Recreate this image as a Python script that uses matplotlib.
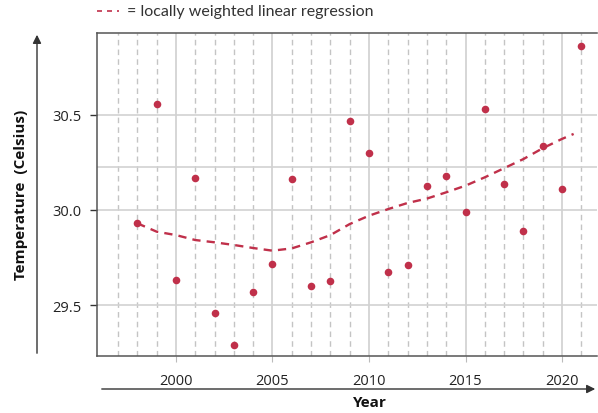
import matplotlib
matplotlib.use("Agg")
import matplotlib.pyplot as plt
import numpy as np

years = list(range(1998, 2022))
temps = [29.93, 30.56, 29.633, 30.17, 29.46, 29.289, 29.567, 29.714, 30.162, 29.60,
         29.628, 30.467, 30.298, 29.672, 29.711, 30.128, 30.179, 29.991, 30.532, 30.137,
         29.888, 30.335, 30.112, 30.863]
lowess_years = list(range(1998, 2021)) + [2020.6]
lowess = [29.93, 29.886, 29.868, 29.842, 29.83, 29.816, 29.80, 29.786, 29.798, 29.83,
          29.868, 29.926, 29.97, 30.005, 30.037, 30.06, 30.093, 30.128, 30.172, 30.22,
          30.268, 30.325, 30.374, 30.40]
xticks = [2000, 2005, 2010, 2015, 2020]
yticks = [29.5, 30.0, 30.5]
ytick_labels = ["29.5", "30.0", "30.5"]
minor_years = list(range(1997, 2022))
extra_hgrid = [30.226]

RED = "#c0304a"
W, H = 598, 414
fig = plt.figure(figsize=(W / 100, H / 100), dpi=100)

def fx(px):
    return px / W

def fy(py):
    return 1 - py / H

ax = fig.add_axes([fx(97), fy(357), fx(597) - fx(97), fy(34) - fy(357)])
ax.set_xlim(1995.91, 2021.81)
ax.set_ylim(29.232, 30.931)

# grids
for yr in minor_years:
    if yr in xticks:
        continue
    ax.axvline(yr, color="#c4c4c4", lw=1.0, ls=(0, (4, 3)), zorder=1)
for xt in xticks:
    ax.axvline(xt, color="#cfcfcf", lw=1.2, zorder=1)
for yt in yticks + extra_hgrid:
    ax.axhline(yt, color="#d2d2d2", lw=1.2, zorder=1)

ax.plot(lowess_years, lowess, color=RED, lw=1.7, ls=(0, (3.5, 2.6)), zorder=3)
ax.scatter(years, temps, s=30, color=RED, zorder=4, linewidths=0)

ax.set_xticks(xticks)
ax.set_xticklabels([str(x) for x in xticks])
ax.set_yticks(yticks)
ax.set_yticklabels(ytick_labels)
ax.tick_params(axis="x", length=4, color="#bbbbbb", pad=8, labelsize=10.5, labelcolor="#222222")
ax.tick_params(axis="y", length=5, color="#333333", width=1.0, pad=6, labelsize=10.5, labelcolor="#222222")
for lab in ax.get_xticklabels() + ax.get_yticklabels():
    lab.set_family("Open Sans")

for side in ["left", "top", "bottom"]:
    ax.spines[side].set_color("#555555")
    ax.spines[side].set_linewidth(1.1)
ax.spines["right"].set_visible(False)

# axis arrows
fig.add_artist(matplotlib.patches.FancyArrowPatch(
    (fx(37), fy(357)), (fx(37), fy(33)), transform=fig.transFigure,
    arrowstyle="-|>,head_length=5,head_width=2.5", color="#333333", lw=1.0, mutation_scale=1))
fig.add_artist(matplotlib.patches.FancyArrowPatch(
    (fx(99), fy(390)), (fx(598), fy(390)), transform=fig.transFigure,
    arrowstyle="-|>,head_length=5,head_width=2.5", color="#333333", lw=1.0, mutation_scale=1))

fig.text(fx(370), fy(403), "Year", ha="center", va="center", fontsize=11,
         fontweight="bold", family="Open Sans", color="#111111")
fig.text(fx(21), fy(195), "Temperature  (Celsius)", ha="center", va="center", fontsize=11,
         fontweight="bold", family="Open Sans", color="#111111", rotation=90)

# legend text
fig.add_artist(matplotlib.lines.Line2D([fx(97), fx(119)], [fy(12), fy(12)],
                                       color=RED, lw=1.2, ls=(0, (3, 3))))
fig.text(fx(127), fy(12), "= locally weighted linear regression", ha="left", va="center",
         fontsize=11.5, family="Lato", color="#333333")

fig.savefig("out.png", dpi=100)
